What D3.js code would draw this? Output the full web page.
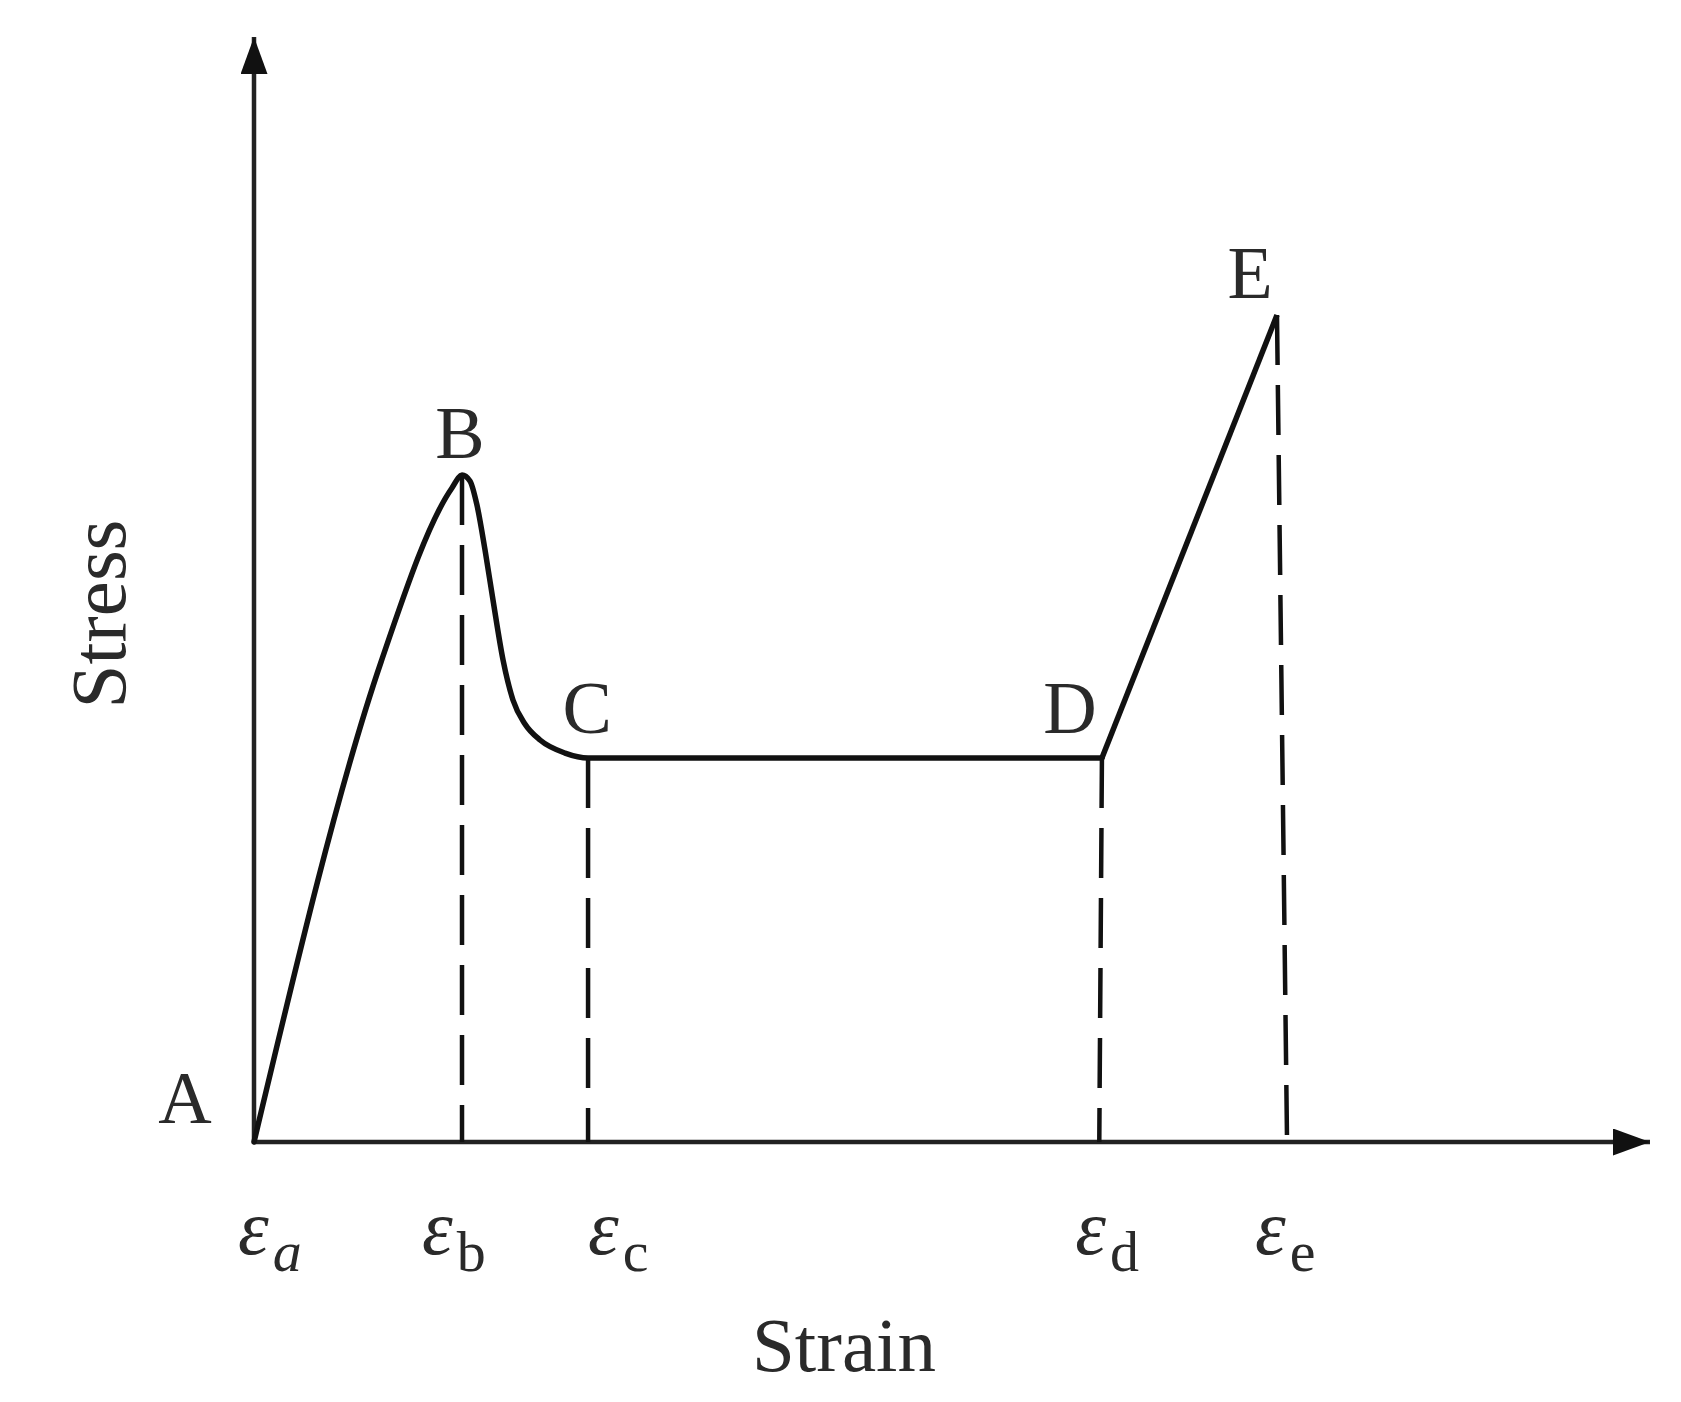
<!DOCTYPE html>
<html>
<head>
<meta charset="utf-8">
<script src="https://cdn.jsdelivr.net/npm/d3@7"></script>
<style>
  html, body { margin: 0; padding: 0; background: #fff; }
  svg { display: block; }
  text { font-family: "Liberation Serif", "Times New Roman", serif; fill: #2a2a2a; }
</style>
</head>
<body>
<svg id="chart" width="1681" height="1402"></svg>
<script>
// ---- data (arbitrary strain / stress units) ----
const curveStrain = [0, 9.10, 14.18, 14.90, 15.47, 15.97, 16.55, 17.12, 17.84, 18.55, 19.41, 20.49, 22.28, 23.93, 60.74];
const curveStress = [0, 43.44, 59.19, 60.36, 59.82, 57.65, 53.57, 49.05, 43.62, 40.00, 37.83, 36.38, 35.20, 34.75, 34.75];
const hardeningStrain = [60.74, 73.28];
const hardeningStress = [34.75, 74.84];

const pointNames = ["A", "B", "C", "D", "E"];
const pointStrain = [0, 14.90, 23.93, 60.74, 73.28];
const pointStress = [0, 60.36, 34.75, 34.75, 74.84];

const tickSub = ["a", "b", "c", "d", "e"];
const tickStrain = [0, 14.90, 23.93, 60.55, 74.0];

const xTitle = "Strain";
const yTitle = "Stress";

// ---- layout ----
const svg = d3.select("#chart");
const x = d3.scaleLinear().domain([0, 100]).range([254, 1650]);
const y = d3.scaleLinear().domain([0, 100]).range([1142, 37]);
const ink = "#111";

// axes with arrows
const defs = svg.append("defs");
defs.append("marker").attr("id", "arrX")
  .attr("viewBox", "0 0 37 27").attr("refX", 37).attr("refY", 13.5)
  .attr("markerUnits", "userSpaceOnUse").attr("markerWidth", 37).attr("markerHeight", 27)
  .attr("orient", "auto")
  .append("path").attr("d", "M0,0 L37,13.5 L0,27 Z").attr("fill", ink);

svg.append("line")
  .attr("x1", x(0)).attr("y1", y(0)).attr("x2", x(100)).attr("y2", y(0))
  .attr("stroke", "#222").attr("stroke-width", 4.5).attr("marker-end", "url(#arrX)");
svg.append("line")
  .attr("x1", x(0)).attr("y1", y(0)).attr("x2", x(0)).attr("y2", y(100))
  .attr("stroke", "#222").attr("stroke-width", 4.5).attr("marker-end", "url(#arrX)");

// dashed drop lines from B, C, D, E
const dashG = svg.append("g");
[1, 2, 3, 4].forEach(i => {
  dashG.append("line")
    .attr("x1", x(pointStrain[i])).attr("y1", y(pointStress[i]))
    .attr("x2", x(tickStrain[i])).attr("y2", y(0))
    .attr("stroke", ink).attr("stroke-width", 4.5)
    .attr("stroke-dasharray", "50,20");
});

// stress-strain curve
const pts = curveStrain.map((s, i) => [s, curveStress[i]]);
const lineSmooth = d3.line().x(d => x(d[0])).y(d => y(d[1])).curve(d3.curveMonotoneX);
svg.append("path").attr("d", lineSmooth(pts))
  .attr("fill", "none").attr("stroke", ink).attr("stroke-width", 5.5)
  .attr("stroke-linejoin", "round").attr("stroke-linecap", "round");

const hard = hardeningStrain.map((s, i) => [s, hardeningStress[i]]);
const lineStraight = d3.line().x(d => x(d[0])).y(d => y(d[1]));
svg.append("path").attr("d", lineStraight(hard))
  .attr("fill", "none").attr("stroke", ink).attr("stroke-width", 5.5)
  .attr("stroke-linejoin", "miter").attr("stroke-linecap", "butt");

// point labels
const labelOffset = { A: [-69, -19], B: [-2, -17], C: [-1, -25], D: [-32, -25], E: [-27, -17] };
pointNames.forEach((n, i) => {
  svg.append("text")
    .attr("x", x(pointStrain[i]) + labelOffset[n][0])
    .attr("y", y(pointStress[i]) + labelOffset[n][1])
    .attr("text-anchor", "middle")
    .attr("font-size", 74)
    .text(n);
});

// epsilon tick labels
const tickShift = [-16, -40, 0, -24, -32];
tickSub.forEach((s, i) => {
  const t = svg.append("text")
    .attr("x", x(tickStrain[i]) + tickShift[i])
    .attr("y", 1254)
    .attr("font-size", 78);
  t.append("tspan").attr("font-style", "italic").text("ε");
  t.append("tspan")
    .attr("font-size", 58)
    .attr("dx", 4)
    .attr("dy", 17)
    .attr("font-style", s === "a" ? "italic" : "normal")
    .text(s);
});

// axis titles
svg.append("text")
  .attr("x", 844).attr("y", 1371)
  .attr("text-anchor", "middle").attr("font-size", 77)
  .text(xTitle);
svg.append("text")
  .attr("transform", "translate(125,614) rotate(-90)")
  .attr("text-anchor", "middle").attr("font-size", 79)
  .text(yTitle);
</script>
</body>
</html>
